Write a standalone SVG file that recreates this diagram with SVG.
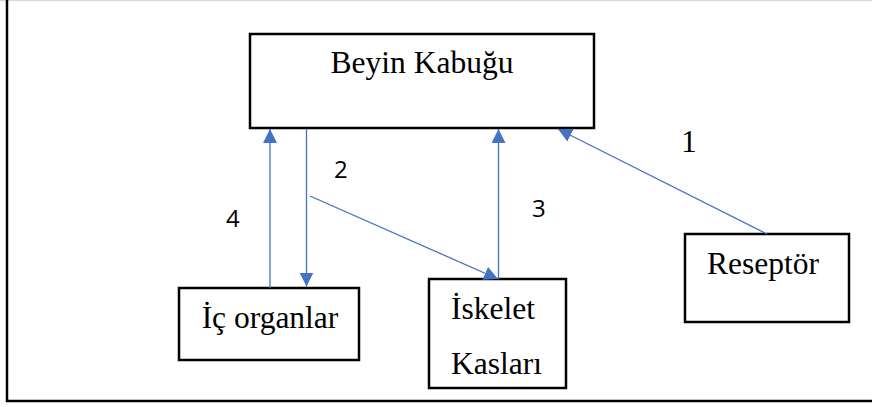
<svg xmlns="http://www.w3.org/2000/svg" width="872" height="407" viewBox="0 0 872 407">
  <defs>
    <marker id="arrow" viewBox="0 0 14 14" refX="14" refY="7" markerWidth="14" markerHeight="14" markerUnits="userSpaceOnUse" orient="auto">
      <path d="M0,0 L14,7 L0,14 Z" fill="#4472C4"/>
    </marker>
  </defs>
  <style>
    .box { fill: #fff; stroke: #000; stroke-width: 2.5; }
    .lbl { font-family: "Liberation Serif", "Times New Roman", serif; font-size: 31.5px; fill: #000; }
    .num { font-family: "Open Sans", "Liberation Sans", Arial, sans-serif; font-size: 24px; fill: #000; }
    .edge { stroke: #4472C4; stroke-width: 1.3; fill: none; }
  </style>
  <rect width="872" height="407" fill="#fff"/>
  <!-- outer frame -->
  <line x1="0" y1="0.5" x2="872" y2="0.5" stroke="#d9d9d9" stroke-width="1.5"/>
  <path d="M7,0 V401 H872" fill="none" stroke="#000" stroke-width="2.5"/>

  <g id="beyin-kabugu">
    <rect class="box" x="250" y="34" width="344" height="94"/>
    <text class="lbl" x="422" y="73" text-anchor="middle">Beyin Kabuğu</text>
  </g>
  <g id="ic-organlar">
    <rect class="box" x="179" y="288" width="180" height="72"/>
    <text class="lbl" x="270" y="328" text-anchor="middle">İç organlar</text>
  </g>
  <g id="iskelet-kaslari">
    <rect class="box" x="429" y="279" width="137" height="109"/>
    <text class="lbl" x="451" y="319">İskelet</text>
    <text class="lbl" x="451" y="374">Kasları</text>
  </g>
  <g id="reseptor">
    <rect class="box" x="685" y="234" width="164" height="88"/>
    <text class="lbl" x="707" y="274">Reseptör</text>
  </g>

  <g id="connectors">
    <line class="edge" x1="767" y1="234" x2="558" y2="129" marker-end="url(#arrow)"/>
    <line class="edge" x1="270" y1="288" x2="270" y2="129" marker-end="url(#arrow)"/>
    <line class="edge" x1="306.5" y1="129" x2="306.5" y2="286.5" marker-end="url(#arrow)"/>
    <line class="edge" x1="310" y1="196" x2="498" y2="279" marker-end="url(#arrow)"/>
    <line class="edge" x1="498.5" y1="279" x2="498.5" y2="129" marker-end="url(#arrow)"/>
  </g>

  <g id="labels">
    <text class="lbl" x="681" y="152">1</text>
    <text class="num" x="334" y="178">2</text>
    <text class="num" x="532" y="217">3</text>
    <text class="num" x="226" y="227">4</text>
  </g>
</svg>
